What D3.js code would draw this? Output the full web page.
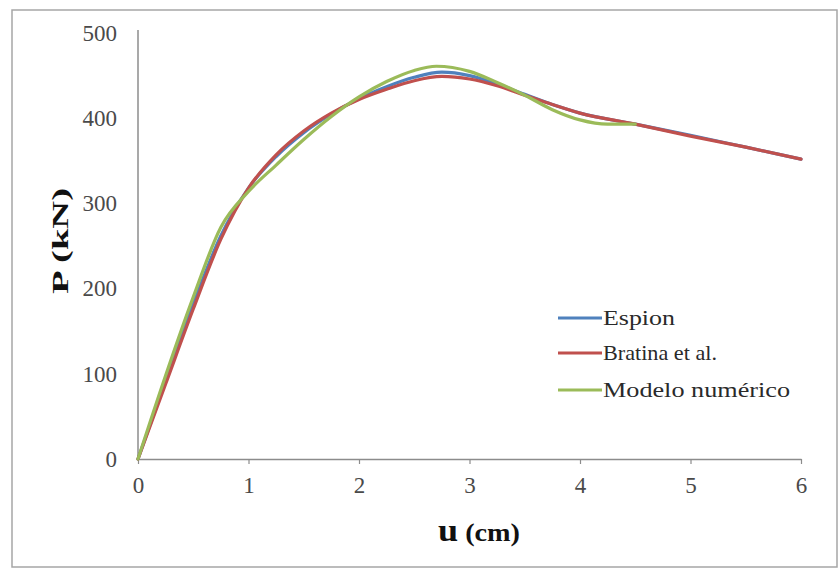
<!DOCTYPE html>
<html><head><meta charset="utf-8">
<script src="https://cdn.jsdelivr.net/npm/d3@7"></script>
<style>html,body{margin:0;padding:0;background:#fff;}svg{display:block;}</style>
</head><body>
<svg id="chart" width="839" height="570"></svg>
<script>
const xTicks = [0,1,2,3,4,5,6];
const yTicks = [0,100,200,300,400,500];
const seriesNames = ["Espion","Bratina et al.","Modelo numérico"];
const seriesColors = ["#4f81bd","#c0504d","#9bbb59"];
const espionU = [0,0.25,0.5,0.75,1.0,1.25,1.5,1.75,2.0,2.25,2.5,2.75,3.0,3.25,3.5,3.75,4.0,4.5,5.0,5.5,6.0];
const espionP = [0,92,182,262,318,355,383,405,423,437,448,454,450,440,428,416,406,393,380,366,352];
const bratinaU = [0,0.25,0.5,0.75,1.0,1.25,1.5,1.75,2.0,2.25,2.5,2.75,3.0,3.25,3.5,3.75,4.0,4.5,5.0,5.5,6.0];
const bratinaP = [0,88,176,258,318,357,385,406,422,434,444,449,446,438,427,416,406,393,379,366,352];
const modeloU = [0,0.25,0.5,0.75,1.0,1.25,1.5,1.75,2.0,2.25,2.5,2.7,3.0,3.25,3.5,3.75,4.0,4.25,4.5];
const modeloP = [0,98,190,272,314,345,375,402,425,443,456,461,455,442,427,410,398,393,393];

const svg = d3.select("#chart");
const x = d3.scaleLinear().domain([0,6]).range([138,801]);
const y = d3.scaleLinear().domain([0,500]).range([459,33]);
const font = "Liberation Serif";

svg.append("rect").attr("x",12).attr("y",10).attr("width",825).attr("height",557)
  .attr("fill","#fff").attr("stroke","#a6a6a6").attr("stroke-width",1.5);

// y axis
const yAx = svg.append("g").attr("transform","translate(138,0)")
  .call(d3.axisLeft(y).tickValues(yTicks).tickSize(0).tickPadding(21).tickFormat(d3.format("d")));
yAx.select(".domain").attr("stroke","#8c8c8c").attr("stroke-width",1.5).attr("d","M0,30V459");
yAx.selectAll("text").attr("font-family",font).attr("font-size",23).attr("fill","#4a4a4a");

// x axis
const xAx = svg.append("g").attr("transform","translate(0,459)")
  .call(d3.axisBottom(x).tickValues(xTicks).tickSize(5).tickSizeOuter(0).tickPadding(13).tickFormat(d3.format("d")));
xAx.select(".domain").attr("stroke","#8c8c8c").attr("stroke-width",1.5);
xAx.selectAll("line").attr("stroke","#8c8c8c").attr("stroke-width",1.2);
xAx.selectAll("text").attr("font-family",font).attr("font-size",23).attr("fill","#4a4a4a");

// axis titles
svg.append("text").attr("transform","translate(68,241) rotate(-90)").attr("text-anchor","middle")
  .attr("font-family",font).attr("font-weight","bold").attr("font-size",24).attr("fill","#111")
  .attr("textLength",106).attr("lengthAdjust","spacingAndGlyphs").text("P (kN)");
const xt = svg.append("text").attr("x",479).attr("y",541).attr("text-anchor","middle")
  .attr("font-family",font).attr("font-weight","bold").attr("fill","#111")
  .attr("textLength",82).attr("lengthAdjust","spacingAndGlyphs");
xt.append("tspan").attr("font-size",32).text("u");
xt.append("tspan").attr("font-size",25).text(" (cm)");

// lines
const line = d3.line().x(d=>x(d[0])).y(d=>y(d[1])).curve(d3.curveMonotoneX);
const series = [
  d3.zip(espionU, espionP),
  d3.zip(bratinaU, bratinaP),
  d3.zip(modeloU, modeloP)
];
series.forEach((s,i)=>{
  svg.append("path").datum(s).attr("d",line).attr("fill","none")
    .attr("stroke",seriesColors[i]).attr("stroke-width",3.2).attr("stroke-linejoin","round").attr("stroke-linecap","round");
});

// legend
const legY = [318,353,390];
const legLen = [72,114,187];
seriesNames.forEach((n,i)=>{
  svg.append("line").attr("x1",558).attr("x2",602).attr("y1",legY[i]).attr("y2",legY[i])
    .attr("stroke",seriesColors[i]).attr("stroke-width",3.2);
  svg.append("text").attr("x",603).attr("y",legY[i]+7).attr("font-family",font).attr("font-size",21)
    .attr("fill","#2a2a2a").attr("textLength",legLen[i]).attr("lengthAdjust","spacingAndGlyphs").text(n);
});
</script>
</body></html>
